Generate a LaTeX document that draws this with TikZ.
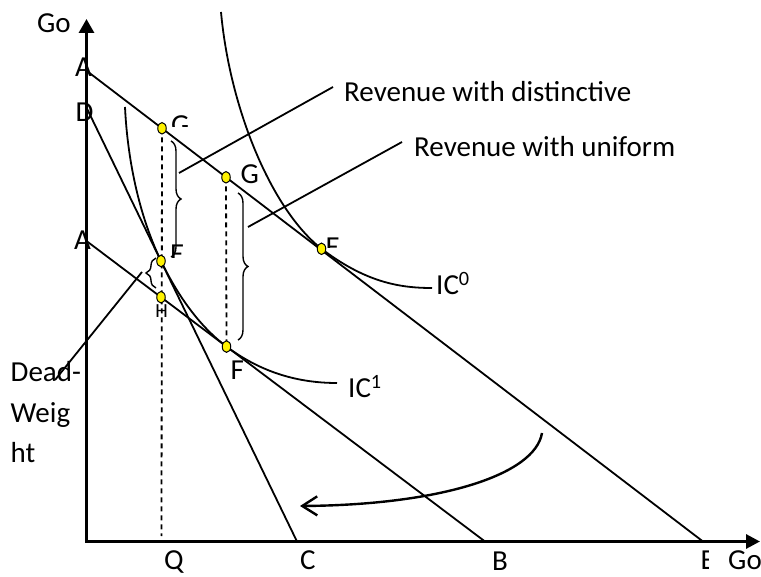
\documentclass[tikz,border=0pt]{standalone}
\usepackage{fontspec}
\setmainfont{Carlito}
\usetikzlibrary{arrows.meta,decorations.pathreplacing,shapes.geometric}
\begin{document}
\begin{tikzpicture}[x=1pt,y=-1pt,
  lbl/.style={font=\fontsize{29}{35}\selectfont, inner sep=0pt, anchor=base west},
  smalllbl/.style={font=\fontsize{20}{24}\selectfont, inner sep=0pt},
  ln/.style={line width=1.8pt},
  axisln/.style={line width=3pt, line join=miter},
  dot/.style={ellipse, draw, line width=1pt, fill=yellow, inner sep=0pt, minimum width=8.5pt, minimum height=11.5pt},
  dashln/.style={line width=1.8pt, dash pattern=on 5pt off 4pt},
  brc/.style={line width=1.4pt, decorate, decoration={brace, amplitude=10pt}},
  swing/.style={line width=2.4pt, -{Straight Barb[length=15pt,width=19pt]}}
]
\useasboundingbox (0,0) rectangle (761,577);

% coordinates
\coordinate (O) at (86.5,541.5);
\coordinate (Ytip) at (86.5,19);
\coordinate (Xtip) at (760,541.5);
\coordinate (A1) at (86.5,70.7);
\coordinate (E0) at (703,541.5);
\coordinate (Dp) at (86.5,107.6);
\coordinate (Cp) at (297,541.5);
\coordinate (A2) at (86.5,241);
\coordinate (Bp) at (485,541.5);
\coordinate (pG1) at (162,128.3);
\coordinate (pG2) at (226,177.3);
\coordinate (pEt) at (321.5,248.8);
\coordinate (pEq) at (161,261);
\coordinate (pH) at (161,297.2);
\coordinate (pF) at (226.5,346.6);
\coordinate (Qfoot) at (161.5,536);
\coordinate (ic0s) at (221,12);
\coordinate (ic0e) at (432,288);
\coordinate (ic1s) at (125,107);
\coordinate (ic1e) at (337,383);
\coordinate (b1) at (179,173);
\coordinate (r1) at (333,87);
\coordinate (b2) at (248,227);
\coordinate (r2) at (402,142);
\coordinate (b3) at (142,272);
\coordinate (d3) at (55,380);
\coordinate (cs) at (542,433);
\coordinate (ce) at (300,506);

% axes
\draw[axisln, {Triangle[length=14pt,width=15pt]}-{Triangle[length=14pt,width=14pt]}] (Ytip) -- (O) -- (Xtip);

% budget lines
\draw[ln] (A1) -- (E0);
\draw[ln] (Dp) -- (Cp);
\draw[ln] (A2) -- (Bp);

% indifference curves
\draw[ln] (ic0s) .. controls (230,110) and (272,210) .. (pEt)
              .. controls (366,282.5) and (400,288) .. (ic0e);
\draw[ln] (ic1s) .. controls (127,150) and (136,209) .. (pEq)
              .. controls (179.5,299.1) and (201.3,327.6) .. (pF)
              .. controls (266,376) and (305,383) .. (ic1e);

% dashed verticals
\draw[dashln] (pG1) -- (Qfoot);
\draw[dashln] (pG2) -- (pF);

% braces
\draw[brc] (171,141) -- (171,257);
\draw[brc] (238,193) -- (238,340);
\draw[brc] (156,288) -- (156,258);

% leaders
\draw[ln] (b1) -- (r1);
\draw[ln] (b2) -- (r2);
\draw[ln] (b3) -- (d3);

% curved arrow
\draw[swing] (cs) .. controls (535,475) and (440,505) .. (ce);

% points
\node[dot] (G1) at (pG1) {};
\node[dot] (G2) at (pG2) {};
\node[dot] (Et) at (pEt) {};
\node[dot] (Eq) at (pEq) {};
\node[dot] (H) at (pH) {};
\node[dot] (F) at (pF) {};

% axis labels
\node[lbl] (goY) at (37,33) {Go};
\node[lbl] (goX) at (728,569) {Go};
\node[lbl] (lA1) at (75,77) {A};
\node[lbl] (lD) at (75.5,121.5) {D};
\node[lbl] (lA2) at (74,250) {A};
\node[lbl] (lQ) at (164,569) {Q};
\node[lbl] (lC) at (300,569.5) {C};
\node[lbl] (lB) at (492,570) {B};
\begin{scope}
\clip (690,540) rectangle (708.5,577);
\node[lbl] (lE0) at (700.5,569) {E};
\end{scope}

% point labels
\begin{scope}
\clip (165,100) rectangle (200,127);
\node[lbl] (lG1) at (171,135) {G};
\end{scope}
\node[lbl] (lG2) at (240.5,183.5) {G};
\begin{scope}
\clip (324,225) rectangle (350,248);
\node[lbl] (lEt) at (325.5,256.5) {E};
\end{scope}
\begin{scope}
\clip (167,235) rectangle (195,257.5);
\node[lbl] (lEq) at (170,263.5) {E};
\end{scope}
\node[smalllbl] (lH) at (161.5,311.5) {H};
\node[lbl] (lF) at (230.5,380) {F};

% curve labels
\node[lbl] (IC0) at (436,295) {IC\textsuperscript{0}};
\node[lbl] (IC1) at (348,398) {IC\textsuperscript{1}};

% texts
\node[lbl] (rev1) at (344,101.7) {Revenue with distinctive};
\node[lbl] (rev2) at (414,156.7) {Revenue with uniform};
\node[lbl] (dw1) at (10.5,381.7) {Dead-};
\node[lbl] (dw2) at (10.5,423) {Weig};
\node[lbl] (dw3) at (10.5,463) {ht};
\end{tikzpicture}
\end{document}
